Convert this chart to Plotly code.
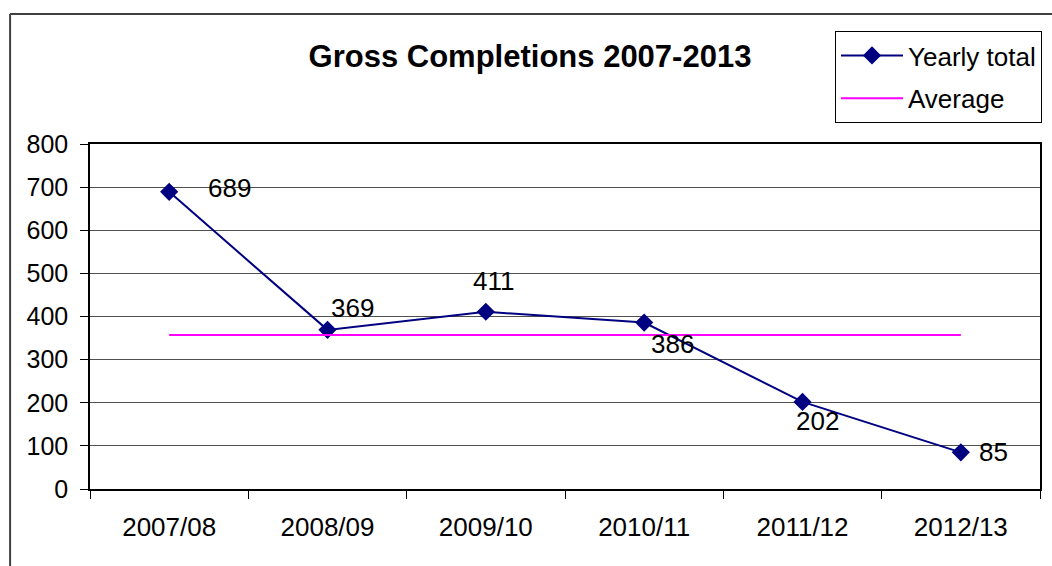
import plotly.graph_objects as go

categories = ["2007/08", "2008/09", "2009/10", "2010/11", "2011/12", "2012/13"]
yearly_total = [689, 369, 411, 386, 202, 85]
average = [357, 357, 357, 357, 357, 357]
y_ticks = [0, 100, 200, 300, 400, 500, 600, 700, 800]

# label offsets in pixels (style only)
label_shift_x = [60, 25, 8, 28, 15, 33]
label_shift_y = [4, 22, 31, -21, -19, 0]

W, H = 1052, 566
L, R, T, B = 90, 11, 144, 77
pw, ph = W - L - R, H - T - B

def px(x):
    return (x - L) / pw

def py(y):
    return (H - B - y) / ph

font = "Liberation Sans, Arial, sans-serif"

fig = go.Figure()
fig.add_trace(go.Scatter(
    x=categories, y=yearly_total, name="Yearly total", mode="lines+markers",
    line=dict(color="#000080", width=2),
    marker=dict(symbol="diamond", size=14, color="#000080"),
    legendgroup="a", cliponaxis=False,
))
fig.add_trace(go.Scatter(
    x=categories, y=average, name="Average", mode="lines",
    line=dict(color="#FF00FF", width=2), legendgroup="b",
))

for c, v, dx, dy in zip(categories, yearly_total, label_shift_x, label_shift_y):
    fig.add_annotation(x=c, y=v, text=str(v), showarrow=False,
                       xshift=dx, yshift=dy,
                       font=dict(family=font, size=26, color="black"))

# outer chart border (left and top visible)
bx, by = px(10), py(14)
fig.add_shape(type="line", xref="paper", yref="paper", x0=bx, x1=bx, y0=py(H + 20), y1=by,
              line=dict(color="#404040", width=2))
fig.add_shape(type="line", xref="paper", yref="paper", x0=bx, x1=px(W + 20), y0=by, y1=by,
              line=dict(color="#404040", width=2))

fig.update_layout(
    width=W, height=H,
    margin=dict(l=L, r=R, t=T, b=B),
    paper_bgcolor="white", plot_bgcolor="white",
    font=dict(family=font, size=25, color="black"),
    title=dict(text="<b>Gross Completions 2007-2013</b>", x=530 / W, xanchor="center",
               y=1 - 56 / H, yanchor="middle",
               font=dict(family=font, size=31, color="black")),
    showlegend=True,
    legend=dict(x=px(835), y=py(31), xanchor="left", yanchor="top",
                bordercolor="black", borderwidth=1, bgcolor="white",
                font=dict(family=font, size=26, color="black"),
                traceorder="grouped", tracegroupgap=6, itemwidth=62),
)
fig.update_xaxes(type="category", range=[-0.5, 5.5], tickson="boundaries",
                 ticks="outside", ticklen=8, tickcolor="black",
                 showline=True, linecolor="black", linewidth=1.5, mirror=True,
                 showgrid=False, ticklabelstandoff=14,
                 tickfont=dict(family=font, size=26, color="black"))
fig.update_yaxes(range=[0, 800], tickvals=y_ticks, ticks="outside", ticklen=8,
                 tickcolor="black", showline=True, linecolor="black", linewidth=1.5,
                 mirror=True, showgrid=True, gridcolor="#505050", gridwidth=1,
                 zeroline=False, ticklabelstandoff=7)

fig.write_html("out.html", post_script="document.body.style.margin='0';",
               config={"displayModeBar": False})
